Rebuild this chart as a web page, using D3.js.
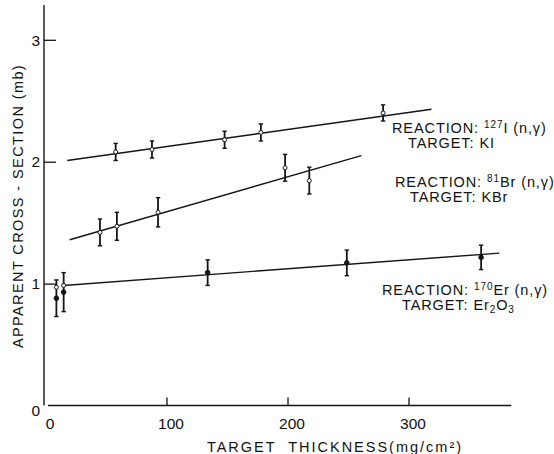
<!DOCTYPE html>
<html>
<head>
<meta charset="utf-8">
<script src="https://cdn.jsdelivr.net/npm/d3@7"></script>
<style>
  html, body { margin: 0; padding: 0; background: #fff; }
  svg { display: block; }
  text { font-family: "Liberation Sans", Arial, sans-serif; fill: #111; }
</style>
</head>
<body>
<svg id="chart" width="554" height="454"></svg>
<script>
// ---- data ----
const xTickValues = [0, 100, 200, 300];
const yTickValues = [0, 1, 2, 3];
const xAxisTitle = "TARGET  THICKNESS(mg/cm²)";
const yAxisTitle = "APPARENT CROSS - SECTION (mb)";

// Reaction 127I(n,γ), target KI
const kiX = [58, 88, 148, 178, 279];
const kiY = [2.08, 2.10, 2.18, 2.24, 2.40];
const kiErr = [0.07, 0.07, 0.07, 0.07, 0.066];
const kiFitX = [18, 319];
const kiFitY = [2.01, 2.43];

// Reaction 81Br(n,γ), target KBr
const kbrX = [45, 59, 93, 198, 218];
const kbrY = [1.42, 1.47, 1.585, 1.95, 1.845];
const kbrErr = [0.11, 0.115, 0.12, 0.11, 0.11];
const kbrFitX = [20, 261];
const kbrFitY = [1.36, 2.05];

// Reaction 170Er(n,γ), target Er2O3
const erX = [9, 15, 134, 249, 360];
const erY = [0.88, 0.93, 1.09, 1.17, 1.215];
const erErr = [0.15, 0.16, 0.105, 0.105, 0.10];
const erOpenX = [9, 15];
const erOpenY = [0.97, 0.985];
const erFitX = [15, 375];
const erFitY = [0.985, 1.25];

// ---- layout ----
const svg = d3.select("#chart");
const x = d3.scaleLinear().domain([0, 388]).range([45.5, 515]);
const y = d3.scaleLinear().domain([0, 3.3]).range([405.5, 405.5 - 3.3 * 121.9]);
const ink = "#151515";

// axis lines
svg.append("line").attr("x1", 44).attr("x2", 44).attr("y1", 5).attr("y2", y(0))
  .attr("stroke", ink).attr("stroke-width", 1.4);
svg.append("line").attr("x1", 48).attr("x2", x(385)).attr("y1", y(0)).attr("y2", y(0))
  .attr("stroke", ink).attr("stroke-width", 1.4);

// y axis ticks
const yAxis = d3.axisLeft(y).tickValues(yTickValues).tickFormat(d3.format("d"))
  .tickSizeInner(-12).tickSizeOuter(0).tickPadding(4);
const gy = svg.append("g").attr("transform", "translate(44,0)").call(yAxis);
gy.select(".domain").remove();
gy.selectAll(".tick line").attr("stroke", ink).attr("stroke-width", 1.3)
  .filter(d => d === 0).remove();
gy.selectAll(".tick text").style("font-size", "15.5px").attr("fill", ink)
  .attr("dy", d => d === 0 ? "0.62em" : "0.34em");

// x axis ticks
const xAxis = d3.axisBottom(x).tickValues(xTickValues).tickFormat(d3.format("d"))
  .tickSizeInner(-8).tickSizeOuter(0).tickPadding(12);
const gx = svg.append("g").attr("transform", `translate(0,${y(0)})`).call(xAxis);
gx.select(".domain").remove();
gx.selectAll(".tick line").attr("stroke", ink).attr("stroke-width", 1.3)
  .filter(d => d === 0).remove();
gx.selectAll(".tick text").style("font-size", "15.5px").attr("fill", ink).attr("dx", 4);

// axis titles
svg.append("text").attr("x", 335).attr("y", 452).attr("text-anchor", "middle")
  .style("font-size", "14.5px").style("letter-spacing", "2px").style("white-space", "pre")
  .text(xAxisTitle);
svg.append("text").attr("transform", "translate(23,206) rotate(-90)")
  .attr("text-anchor", "middle").style("font-size", "14.5px").style("letter-spacing", "1.4px")
  .text(yAxisTitle);

// fit lines
const line = d3.line().x(d => x(d[0])).y(d => y(d[1]));
function fit(xs, ys) {
  svg.append("path").datum(xs.map((v, i) => [v, ys[i]])).attr("d", line)
    .attr("fill", "none").attr("stroke", ink).attr("stroke-width", 1.4);
}
fit(kiFitX, kiFitY);
fit(kbrFitX, kbrFitY);
fit(erFitX, erFitY);

// error bars + markers
function points(xs, ys, es, filled) {
  const g = svg.append("g");
  const data = xs.map((v, i) => ({ x: v, y: ys[i], e: es[i] }));
  g.selectAll(".eb").data(data).join("line")
    .attr("x1", d => x(d.x)).attr("x2", d => x(d.x))
    .attr("y1", d => y(d.y + d.e)).attr("y2", d => y(d.y - d.e))
    .attr("stroke", ink).attr("stroke-width", 1.8);
  g.selectAll(".capT").data(data).join("line")
    .attr("x1", d => x(d.x) - 2.2).attr("x2", d => x(d.x) + 2.2)
    .attr("y1", d => y(d.y + d.e)).attr("y2", d => y(d.y + d.e))
    .attr("stroke", ink).attr("stroke-width", 1.4);
  g.selectAll(".capB").data(data).join("line")
    .attr("x1", d => x(d.x) - 2.2).attr("x2", d => x(d.x) + 2.2)
    .attr("y1", d => y(d.y - d.e)).attr("y2", d => y(d.y - d.e))
    .attr("stroke", ink).attr("stroke-width", 1.4);
  g.selectAll("circle").data(data).join("circle")
    .attr("cx", d => x(d.x)).attr("cy", d => y(d.y)).attr("r", filled ? 2.3 : 2)
    .attr("fill", filled ? ink : "#fff").attr("stroke", ink).attr("stroke-width", 1);
}
points(kiX, kiY, kiErr, false);
points(kbrX, kbrY, kbrErr, false);
points(erX, erY, erErr, true);
svg.append("g").selectAll("circle").data(erOpenX.map((v, i) => [v, erOpenY[i]])).join("circle")
  .attr("cx", d => x(d[0])).attr("cy", d => y(d[1])).attr("r", 2)
  .attr("fill", "#fff").attr("stroke", ink).attr("stroke-width", 1);

// reaction labels
function label(xPos, yPos, mass, elem, tgtX, tgtParts) {
  const t = svg.append("text").attr("x", xPos).attr("y", yPos).style("font-size", "14.5px")
    .style("letter-spacing", "0.9px");
  t.append("tspan").text("REACTION: ");
  t.append("tspan").text(mass).style("font-size", "10px").attr("dy", -5);
  t.append("tspan").text(elem + " (n,γ)").attr("dy", 5);
  const t2 = svg.append("text").attr("x", tgtX).attr("y", yPos + 15).style("font-size", "14.5px")
    .style("letter-spacing", "0.9px");
  tgtParts.forEach(p => {
    const s = t2.append("tspan").text(p.t);
    if (p.sub) s.style("font-size", "10px").attr("dy", 3);
    if (p.back) s.attr("dy", -3);
  });
}
label(392, 133, "127", "I", 408, [{ t: "TARGET: KI" }]);
label(395, 187, "81", "Br", 410, [{ t: "TARGET: KBr" }]);
label(382, 295, "170", "Er", 402, [{ t: "TARGET: Er" }, { t: "2", sub: true }, { t: "O", back: true }, { t: "3", sub: true }]);
</script>
</body>
</html>
